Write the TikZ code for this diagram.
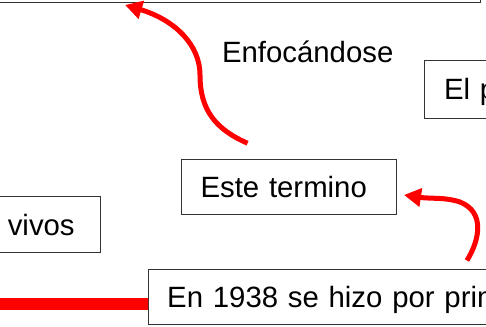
\documentclass[tikz,border=0pt]{standalone}
\usepackage{fontspec}
\setmainfont{Liberation Sans}
\usetikzlibrary{arrows.meta}
\begin{document}
\begin{tikzpicture}[x=0.02cm,y=-0.02cm,
    texto/.style={font=\fontsize{16.7}{20}\selectfont},
    caja/.style={texto, draw=black!80, line width=0.6pt, text height=0.42cm, text depth=0pt,
      minimum height=1.12cm, inner ysep=0pt},
    flecha/.style={draw=red, line width=0.1cm, -{Triangle[length=0.34cm,width=0.36cm]}}]
            \useasboundingbox (0,0) rectangle (486,327);
            \clip (0,0) rectangle (486,327);
            \node[caja, anchor=south east, minimum width=10cm, minimum height=1.5cm] (arriba) at (481,3) {};
            \node[caja, anchor=west, text width=3cm, align=left, inner xsep=0.39cm, minimum height=1.156cm] (elp) at (424,89.4) {El p};
            \node[caja, anchor=west, text width=3.54cm, align=left, inner xsep=0.38cm, minimum height=1.11cm] (este) at (181,187) {Este termino};
            \node[caja, anchor=east, text width=3cm, align=right, inner xsep=0.51cm] (vivos) at (100.7,224.7) {s vivos};
            \node[caja, anchor=west, text width=8cm, align=left, inner xsep=0.374cm, minimum height=1.108cm] (en1938) at (148,297) {En 1938 se hizo por prim};
            \node[texto, anchor=base west, inner sep=0pt] (enfoc) at (221.7,62.5) {Enfocándose};
            \coordinate (curva1) at (200,75);
            \coordinate (curva2) at (460,202);
            \coordinate (finbarra) at (-10,304);
            \draw[red, line width=0.234cm] (finbarra) -- ([yshift=-0.14cm]en1938.west);
            \draw[flecha] ([xshift=-0.83cm,yshift=0.31cm]este.north) .. controls +(-32,-14) and +(0,35) .. (curva1)
                .. controls +(0,-30) and +(50,15) .. ([xshift=-7.12cm,yshift=-0.04cm]arriba.south east);
            \draw[flecha] ([xshift=6.38cm,yshift=0.166cm]en1938.north west) .. controls +(13,-21) and +(25,10) .. (curva2)
                .. controls +(-15,-5) and +(27,4) .. ([xshift=0.14cm,yshift=-0.16cm]este.east);
        \end{tikzpicture}
\end{document}
